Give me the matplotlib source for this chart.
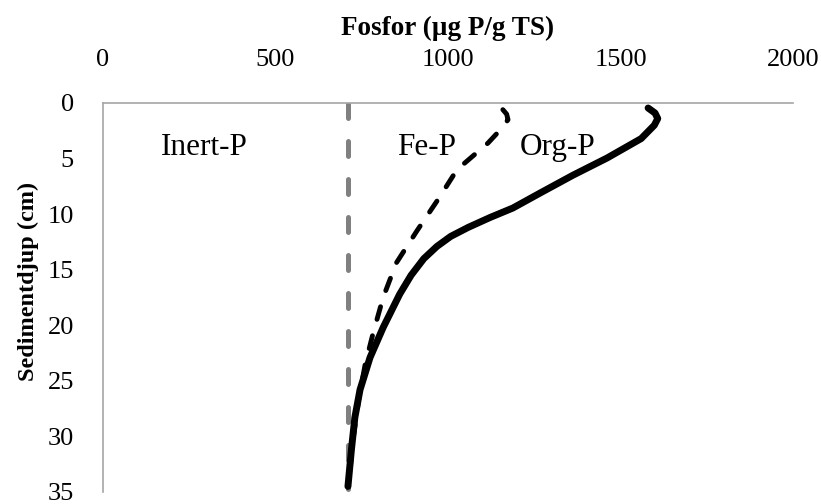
import matplotlib.pyplot as plt
from matplotlib import rcParams

rcParams['font.family'] = 'serif'
rcParams['font.serif'] = ['Liberation Serif', 'DejaVu Serif']

# === Data ===
inert_depth = [0, 34.7]
inert_p = [710, 710]

fe_depth = [0.6, 1.0, 1.5, 2.3, 3.6, 6.0, 8.5, 11.5, 14.4, 17.5, 20.7, 23.5, 26.5, 30.0, 34.5]
fe_p = [1159, 1170, 1174, 1155, 1116, 1026, 975, 910, 850, 812, 783, 760, 742, 726, 711]

org_depth = [0.45, 0.9, 1.4, 2.0, 3.2, 4.95, 6.5, 8.1, 9.45, 10.3, 11.2, 12.0, 12.9,
             14.0, 15.5, 17.2, 20.2, 22.9, 25.8, 28.3, 31.2, 34.5]
org_p = [1580, 1600, 1608, 1598, 1560, 1461, 1362, 1267, 1188, 1122, 1058, 1008, 968,
         930, 893, 860, 812, 774, 745, 730, 720, 710]

labels = ['Inert-P', 'Fe-P', 'Org-P']
label_x = [293, 938, 1317]
label_y = [4.7, 4.7, 4.7]

xticks = [0, 500, 1000, 1500, 2000]
yticks = [0, 5, 10, 15, 20, 25, 30, 35]

# === Plot ===
fig = plt.figure(figsize=(8.21, 5.04), dpi=100)
ax = fig.add_axes([103 / 821, 1 - 492 / 504, 690 / 821, 389 / 504])

ax.plot(inert_p, inert_depth, color='#808080', lw=3.6,
        linestyle=(0, (3.0, 4.6)), dash_capstyle='round', zorder=2)
ax.plot(fe_p, fe_depth, color='black', lw=3.5,
        linestyle=(0, (2.7, 3.5)), dash_capstyle='round', zorder=3)
ax.plot(org_p, org_depth, color='black', lw=5, solid_capstyle='round',
        solid_joinstyle='round', zorder=4)

for txt, x, y in zip(labels, label_x, label_y):
    ax.text(x, y, txt, fontsize=22.5, ha='center', va='baseline')

ax.set_xlim(0, 2000)
ax.set_ylim(35, 0)
ax.set_xticks(xticks)
ax.set_yticks(yticks)
ax.xaxis.tick_top()
ax.xaxis.set_label_position('top')
ax.tick_params(axis='both', length=0, labelsize=19)
ax.tick_params(axis='x', pad=23)
ax.tick_params(axis='y', pad=21)

ax.set_xlabel('Fosfor (µg P/g TS)', fontsize=19.5, fontweight='bold', labelpad=10)
ax.set_ylabel('Sedimentdjup (cm)', fontsize=17.5, fontweight='bold')
ax.yaxis.set_label_coords(-0.093, 0.542)

for side in ['right', 'bottom']:
    ax.spines[side].set_visible(False)
for side in ['top', 'left']:
    ax.spines[side].set_color('#a6a6a6')
    ax.spines[side].set_linewidth(1.2)

fig.savefig('out.png', dpi=100)
